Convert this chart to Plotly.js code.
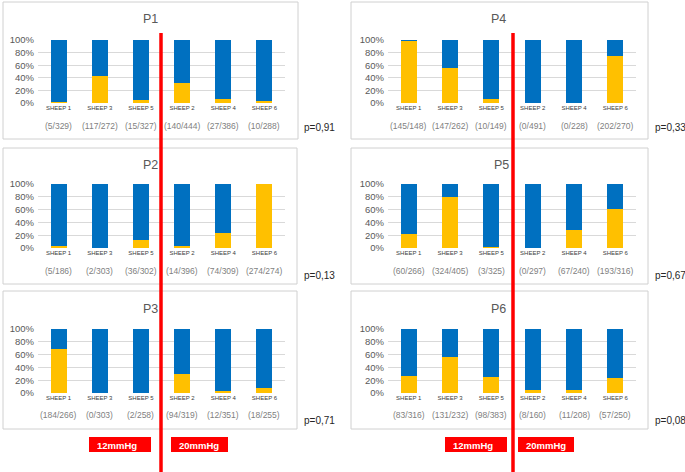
<!DOCTYPE html>
<html><head><meta charset="utf-8">
<script src="https://cdn.plot.ly/plotly-3.0.1.min.js"></script>
<style>html,body{margin:0;padding:0;background:#fff}</style>
</head><body>
<div id="chart" style="width:685px;height:472px"></div>
<script>
const categories = ['SHEEP 1','SHEEP 3','SHEEP 5','SHEEP 2','SHEEP 4','SHEEP 6'];
const panelNames = ['P1','P2','P3','P4','P5','P6'];
const positives = {
  P1: [5,117,15,140,27,10],
  P2: [5,2,36,14,74,274],
  P3: [184,0,2,94,12,18],
  P4: [145,147,10,0,0,202],
  P5: [60,324,3,0,67,193],
  P6: [83,131,98,8,11,57]
};
const totals = {
  P1: [329,272,327,444,386,288],
  P2: [186,303,302,396,309,274],
  P3: [266,303,258,319,351,255],
  P4: [148,262,149,491,228,270],
  P5: [266,405,325,297,240,316],
  P6: [316,232,383,160,208,250]
};
const pValues = {P1:'p=0,91',P2:'p=0,13',P3:'p=0,71',P4:'p=0,33',P5:'p=0,67',P6:'p=0,08'};
const pressureLabels = ['12mmHg','20mmHg'];
const yTickVals = [0,20,40,60,80,100];
const yTickText = ['0%','20%','40%','60%','80%','100%'];

const W=685,H=472;
const px = x=>x/W, py = y=>1-y/H;
const FONT = 'Liberation Sans, Arial, sans-serif';
const YELLOW='#FFC000', BLUE='#0070C0';

// layout geometry (pixels)
const geo = {
  P1:{box:[3,2,298,139], plot:[38,285,40,103], title:[150,19], frac:126, p:[302,128]},
  P2:{box:[3,148,297,284], plot:[38,285,184,248], title:[150,165], frac:271, p:[302,275]},
  P3:{box:[3,291,297,429], plot:[38,285,329,393], title:[150,309], frac:415, p:[302,420]},
  P4:{box:[351,2,648,139], plot:[388,636,40,103], title:[499,19], frac:126, p:[653,128]},
  P5:{box:[351,148,648,284], plot:[388,636,184,248], title:[501,165], frac:271, p:[653,275]},
  P6:{box:[351,291,648,429], plot:[388,636,329,393], title:[499,309], frac:415, p:[653,420]}
};

const traces=[], shapes=[], annotations=[];
const layout = {
  width:W, height:H, margin:{l:0,r:0,t:0,b:0},
  paper_bgcolor:'#fff', plot_bgcolor:'rgba(0,0,0,0)',
  barmode:'stack', showlegend:false, hovermode:false,
  font:{family:FONT, color:'#595959'}
};

panelNames.forEach((name,i)=>{
  const g = geo[name];
  const n = i+1;
  const xa = n===1?'x':'x'+n, ya = n===1?'y':'y'+n;
  const yellow = positives[name].map((v,k)=>v/totals[name][k]*100);
  const blue = yellow.map(v=>100-v);
  traces.push({type:'bar', x:categories, y:yellow, xaxis:xa, yaxis:ya,
    marker:{color:YELLOW}, width:0.39});
  traces.push({type:'bar', x:categories, y:blue, xaxis:xa, yaxis:ya,
    marker:{color:BLUE}, width:0.39});
  layout[(n===1?'xaxis':'xaxis'+n)] = {
    domain:[px(g.plot[0]), px(g.plot[1])], anchor:ya, type:'category',
    showgrid:false, zeroline:false, showline:false, ticks:'', fixedrange:true,
    tickfont:{size:6, color:'#404040', family:FONT}
  };
  layout[(n===1?'yaxis':'yaxis'+n)] = {
    domain:[py(g.plot[3]), py(g.plot[2])], anchor:xa, range:[0,100],
    tickmode:'array', tickvals:yTickVals, ticktext:yTickText, showgrid:true, gridcolor:'#d9d9d9',
    gridwidth:1, zeroline:false, showline:false, ticks:'', fixedrange:true,
    tickfont:{size:9.5, color:'#595959', family:FONT}, ticklabelstandoff:3
  };
  shapes.push({type:'rect', xref:'paper', yref:'paper', layer:'below',
    x0:px(g.box[0]), x1:px(g.box[2]), y0:py(g.box[3]), y1:py(g.box[1]),
    line:{color:'#d0d0d0', width:1}, fillcolor:'#fff'});
  annotations.push({xref:'paper', yref:'paper', x:px(g.title[0]), y:py(g.title[1]),
    text:name, showarrow:false, xanchor:'center', yanchor:'middle',
    font:{size:12.5, color:'#595959', family:FONT}});
  categories.forEach((c,k)=>{
    annotations.push({xref:xa, yref:'paper', x:c, y:py(g.frac),
      text:'('+positives[name][k]+'/'+totals[name][k]+')', showarrow:false,
      xanchor:'center', yanchor:'middle', font:{size:8.5, color:'#7f7f7f', family:FONT}});
  });
  annotations.push({xref:'paper', yref:'paper', x:px(g.p[0]), y:py(g.p[1]),
    text:pValues[name], showarrow:false, xanchor:'left', yanchor:'middle',
    font:{size:10, color:'#262626', family:FONT}});
});

// pressure label boxes
const boxes = [[89,151],[171,228],[445,507],[518,574]];
boxes.forEach((b,k)=>{
  shapes.push({type:'rect', xref:'paper', yref:'paper', x0:px(b[0]), x1:px(b[1]),
    y0:py(452), y1:py(437), line:{width:0}, fillcolor:'#FF0000'});
  annotations.push({xref:'paper', yref:'paper', x:px(b[0]+6), y:py(445),
    text:'<b>'+pressureLabels[k%2]+'</b>', showarrow:false, xanchor:'left', yanchor:'middle',
    font:{size:9.5, color:'#fff', family:FONT}});
});
// red separator lines
[161,513].forEach(x=>{
  shapes.push({type:'line', xref:'paper', yref:'paper', x0:px(x), x1:px(x),
    y0:py(472), y1:py(33), line:{color:'#FF0000', width:3.5}});
});

layout.shapes = shapes;
layout.annotations = annotations;
Plotly.newPlot('chart', traces, layout, {displayModeBar:false, staticPlot:true});
</script>
</body></html>
